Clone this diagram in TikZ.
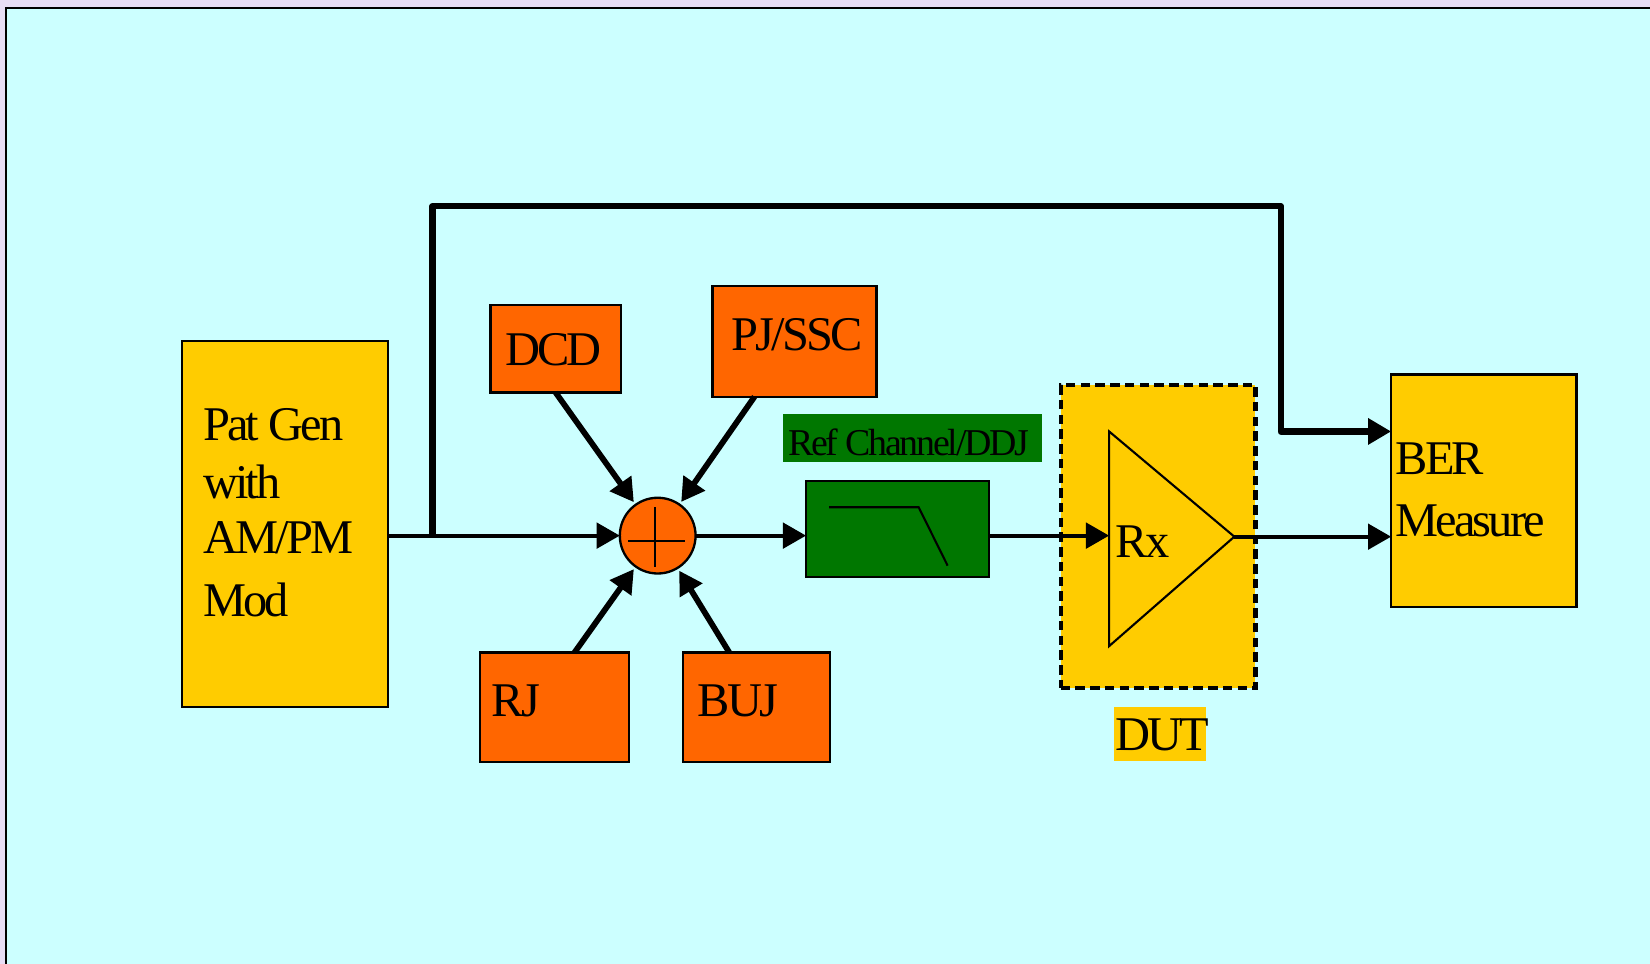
\documentclass[tikz,border=0pt]{standalone}
\usepackage{fontspec}
\setmainfont{Liberation Serif}[LetterSpace=-6]
\usetikzlibrary{arrows.meta,calc}
\definecolor{bgcyan}{HTML}{CCFFFF}
\definecolor{lav}{HTML}{E8DDF5}
\definecolor{gold}{HTML}{FFCC00}
\definecolor{orng}{HTML}{FF6600}
\definecolor{grn}{HTML}{007700}
\begin{document}
\begin{tikzpicture}[x=1pt,y=-1pt,
  box/.style={draw=black, line width=2.2pt, inner sep=0pt, outer sep=0pt},
  txt/.style={anchor=base west, inner sep=0pt, font=\fontsize{46}{50}\selectfont},
  smalltxt/.style={anchor=base west, inner sep=0pt, font=\fontsize{36}{40}\selectfont},
  tip/.style={-{Triangle[length=22pt,width=24pt]}},
  conn/.style={tip, line width=4pt},
  jit/.style={tip, line width=5.5pt, shorten >=3pt},
  fb/.style={tip, line width=6pt, line join=round}]
\useasboundingbox (0,0) rectangle (1568,916);
\fill[lav] (0,0) rectangle (1568,916);
\fill[bgcyan] (6,8) rectangle (1568,916);
\draw[line width=2pt] (6,916) -- (6,8) -- (1568,8);

% blocks
\node[box, fill=gold, minimum width=196pt, minimum height=348pt] (patgen) at (271,498) {};
\node[box, fill=orng, minimum width=124pt, minimum height=83pt] (dcd) at (528,331.5) {};
\node[box, fill=orng, minimum width=156pt, minimum height=105pt] (pjssc) at (755,324.5) {};
\node[box, fill=orng, minimum width=142pt, minimum height=104pt] (rj) at (527,672) {};
\node[box, fill=orng, minimum width=140pt, minimum height=104pt] (buj) at (719,672) {};
\node[box, fill=grn, minimum width=174pt, minimum height=91pt] (filter) at (853,502.5) {};
\node[fill=grn, inner sep=0pt, minimum width=246pt, minimum height=46pt] (reflabel) at (867,416) {};
\node[draw=black, line width=4pt, dash pattern=on 9pt off 5pt, fill=gold, inner sep=0pt,
      minimum width=185pt, minimum height=288pt] (dut) at (1100.5,510) {};
\node[fill=gold, inner sep=0pt, minimum width=87pt, minimum height=51pt] (dutlabel) at (1102.5,697.5) {};
\node[box, fill=gold, minimum width=176pt, minimum height=221pt] (ber) at (1410,466.5) {};
\node[box, circle, fill=orng, minimum size=72pt] (sum) at (625,509) {};

% summing cross
\draw[line width=2pt] ($(sum)+(-28,5)$) -- ($(sum)+(26,5)$);
\draw[line width=2pt] ($(sum)+(-2.5,-27)$) -- ($(sum)+(-2.5,30)$);

% low-pass symbol
\draw[line width=2pt] ($(filter)+(-65,-20.5)$) -- ($(filter)+(20,-20.5)$) -- ($(filter)+(47.5,35)$);

% Rx triangle
\coordinate (rxin) at (1054,509);
\coordinate (rxout) at (1173,510);
\draw[line width=2pt, line join=miter] (1054,410) -- (rxout) -- (1054,614) -- cycle;

% texts
\node[txt] (t1) at (193,419) {Pat Gen};
\node[txt] (t2) at (193,474) {with};
\node[txt] (t3) at (193,526) {AM/PM};
\node[txt] (t4) at (193,586) {Mod};
\node[txt] (t5) at (480,347.5) {DCD};
\node[txt] (t6) at (695,333.5) {PJ/SSC};
\node[txt] (t7) at (467,681) {RJ};
\node[txt] (t8) at (663,681) {BUJ};
\node[smalltxt] (t9) at (749,433) {Ref Channel/DDJ};
\node[txt] (t10) at (1060,530) {Rx};
\node[txt] (t11) at (1326,451) {BER};
\node[txt] (t12) at (1326,510) {Measure};
\node[txt] (t13) at (1060,713) {DUT};

% connectors
\coordinate (tap) at (411,509);
\coordinate (turn) at (1217,196);
\draw[line width=4pt] (patgen.east |- sum) -- (tap);
\draw[conn] (tap) -- (sum.west);
\draw[fb] (tap) |- (turn) |- (ber.west |- 0,410);
\draw[conn] (sum.east) -- (filter.west |- sum);
\draw[conn] (filter.east |- sum) -- (rxin);
\draw[conn] (rxout) -- (ber.west |- rxout);
\draw[jit] (dcd.south) -- (sum);
\draw[jit] ($(pjssc.south)+(-38,0)$) -- (sum);
\draw[jit] ($(rj.north)+(19,0)$) -- (sum);
\draw[jit] ($(buj.north)+(-26,0)$) -- (sum);
\end{tikzpicture}
\end{document}
